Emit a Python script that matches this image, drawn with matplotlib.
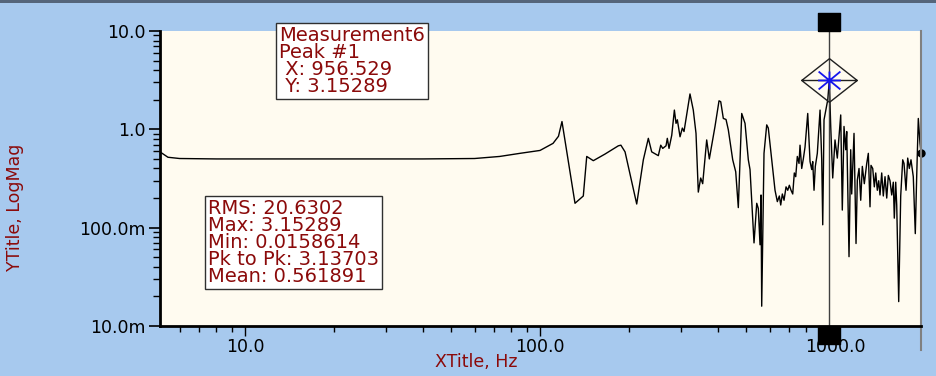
import numpy as np
import matplotlib
matplotlib.use("Agg")
import matplotlib.pyplot as plt
from matplotlib.path import Path
from matplotlib.transforms import blended_transform_factory
from matplotlib.patches import Rectangle

plt.rcParams['font.family'] = ['DejaVu Sans']

# spectrum (Hz, magnitude)
freq = [5.15, 5.48, 6.0, 8.0, 10.0, 20.0, 40.0, 60.0, 73.0, 85.5, 100.0, 110.7, 115.5, 118.7,
        131.4, 140.2, 144.0, 151.6, 166.0, 184.3, 188.0, 194.2, 212.7, 224.0, 232.9, 239.1,
        251.8, 256.6, 260.6, 267.4, 270.1, 273.7, 279.6, 285.4, 289.1, 292.1, 298.3, 303.7,
        307.7, 322.4, 330.8, 337.9, 344.0, 350.5, 356.0, 367.3, 374.9, 391.9, 404.4, 409.8,
        418.2, 427.1, 434.8, 450.0, 460.7, 470.1, 482.8, 495.4, 508.3, 515.1, 531.4, 542.8,
        549.5, 556.9, 561.3, 564.3, 574.5, 586.8, 594.1, 610.1, 626.1, 637.5, 647.6, 654.6,
        662.9, 671.7, 682.3, 691.5, 700.1, 709.4, 718.9, 727.8, 735.9, 745.1, 755.1, 761.0,
        771.1, 780.8, 791.3, 808.2, 822.9, 833.7, 840.3, 848.9, 857.5, 871.0, 889.7, 901.5,
        908.6, 917.8, 932.3, 945.0, 956.529, 967.0, 982.2, 1000.0, 1018.1, 1045.5, 1058.5,
        1072.7, 1087.1, 1095.6, 1115.5, 1130.3, 1139.2, 1159.9, 1178.2, 1190.2, 1206.2,
        1222.2, 1237.5, 1257.0, 1280.9, 1297.0, 1314.1, 1324.4, 1342.2, 1359.0, 1374.1,
        1391.3, 1406.4, 1420.7, 1439.8, 1457.8, 1477.4, 1497.3, 1516.0, 1536.0, 1556.7,
        1576.1, 1588.5, 1606.1, 1618.7, 1644.0, 1669.9, 1696.3, 1713.6, 1740.6, 1763.6,
        1785.8, 1809.4, 1842.2, 1871.3, 1891.7, 1915.8, 1941.2, 1956.5]
mag = [0.59, 0.52, 0.505, 0.50, 0.50, 0.50, 0.50, 0.505, 0.53, 0.57, 0.61, 0.72, 0.85, 1.2,
       0.177, 0.21, 0.53, 0.48, 0.56, 0.68, 0.69, 0.59, 0.174, 0.49, 0.81, 0.59,
       0.54, 0.69, 0.64, 0.68, 0.81, 0.64, 0.87, 1.57, 1.15, 1.25, 0.84, 1.03,
       0.95, 2.29, 1.57, 0.91, 0.23, 0.32, 0.28, 0.78, 0.50, 1.07, 1.95, 1.91,
       1.29, 1.26, 0.99, 0.49, 0.37, 0.16, 1.45, 1.15, 0.49, 0.39, 0.070, 0.177,
       0.157, 0.067, 0.215, 0.0159, 0.57, 1.11, 1.03, 0.49, 0.24, 0.184, 0.21, 0.17,
       0.22, 0.19, 0.26, 0.24, 0.27, 0.24, 0.22, 0.36, 0.33, 0.53, 0.45, 0.69,
       0.40, 0.50, 0.66, 1.45, 0.47, 0.39, 0.47, 0.24, 0.42, 0.57, 1.57, 0.49,
       0.107, 1.25, 1.6, 2.0, 3.15289, 1.07, 0.32, 0.78, 0.51, 1.40, 0.151,
       1.07, 0.62, 0.95, 0.0507, 0.62, 0.22, 0.91, 0.069, 0.305, 0.40,
       0.19, 0.42, 0.28, 0.45, 0.57, 0.163, 0.43, 0.40, 0.26, 0.36,
       0.24, 0.30, 0.215, 0.36, 0.21, 0.33, 0.20, 0.34, 0.30, 0.215,
       0.29, 0.125, 0.29, 0.17, 0.0177, 0.21, 0.49, 0.45, 0.24, 0.51,
       0.40, 0.49, 0.33, 0.087, 0.33, 1.29, 0.72, 0.58]

peak_x = 956.529
peak_y = 3.15289
peak_lines = ["Measurement6", "Peak #1", " X: 956.529", " Y: 3.15289"]
stats_lines = ["RMS: 20.6302", "Max: 3.15289", "Min: 0.0158614",
               "Pk to Pk: 3.13703", "Mean: 0.561891"]
ytick_vals = [0.01, 0.1, 1.0, 10.0]
ytick_labels = ["10.0m", "100.0m", "1.0", "10.0"]
xtick_vals = [10.0, 100.0, 1000.0]
xtick_labels = ["10.0", "100.0", "1000.0"]

bg = '#A7C9EE'
face = '#FFFBF0'
red = '#8B0A0A'

fig = plt.figure(figsize=(9.37, 3.76), dpi=100, facecolor=bg)
ax = fig.add_axes([160 / 937, 50 / 376, 761 / 937, 295 / 376], facecolor=face)

ax.plot(freq, mag, color='black', lw=1.0)
ax.plot(freq[-1], mag[-1], 'o', color='black', ms=5, clip_on=False)
ax.set_xscale('log')
ax.set_yscale('log')
ax.set_xlim(freq[0], freq[-1])
ax.set_ylim(0.01, 10)

ax.set_yticks(ytick_vals, ytick_labels)
ax.set_xticks(xtick_vals, xtick_labels)
ax.tick_params(axis='both', which='major', labelsize=12.5, colors='black', direction='out')
ax.tick_params(axis='y', which='major', length=8, width=1.2, pad=2)
ax.tick_params(axis='y', which='minor', length=5, width=1.0)
ax.tick_params(axis='x', which='major', length=7, width=1.0, pad=2)
ax.tick_params(axis='x', which='minor', length=4, width=1.0)
ax.yaxis.set_minor_formatter(plt.NullFormatter())
ax.xaxis.set_minor_formatter(plt.NullFormatter())

ax.spines['top'].set_visible(False)
ax.spines['left'].set_linewidth(2)
ax.spines['bottom'].set_linewidth(2)
ax.spines['right'].set_color('#808080')
ax.spines['right'].set_linewidth(1.5)

# right edge marker line extending below the axis
tr = blended_transform_factory(ax.transData, ax.transAxes)
ax.plot([freq[-1], freq[-1]], [-0.08, 0.0], color='#808080', lw=1.5,
        transform=tr, clip_on=False)

# cursor
ax.axvline(peak_x, color='#404040', lw=1.0)
sq = Path([(-1, -0.8), (1, -0.8), (1, 0.8), (-1, 0.8), (-1, -0.8)])
ax.plot([peak_x], [1.029], marker=sq, ms=16, color='black', transform=tr, clip_on=False)
ax.plot([peak_x], [-0.031], marker=sq, ms=16, color='black', transform=tr, clip_on=False)

dia = Path([(-1, 0), (0, 0.786), (1, 0), (0, -0.786), (-1, 0), (1, 0)],
           [Path.MOVETO, Path.LINETO, Path.LINETO, Path.LINETO, Path.LINETO, Path.LINETO])
ax.plot([peak_x], [peak_y], marker=dia, ms=40, mfc='none', mec='#202020', mew=1.0)
star = Path([(-1, 0), (1, 0), (-0.95, 0.78), (0.95, -0.78), (-0.95, -0.78), (0.95, 0.78),
             (0, -0.78), (0, 0.78)],
            [Path.MOVETO, Path.LINETO] * 4)
ax.plot([peak_x], [peak_y], marker=star, ms=16.5, mfc='none', mec='#1515EE', mew=1.3)

# annotation boxes
box = dict(boxstyle='square,pad=0.16', facecolor='white', edgecolor='#303030', lw=1.0)
fig.text(279 / 937, 1 - 26 / 376, "\n".join(peak_lines), fontsize=14, color=red,
         va='top', ha='left', linespacing=0.87, bbox=box)
fig.text(208 / 937, 1 - 199 / 376, "\n".join(stats_lines), fontsize=14, color=red,
         va='top', ha='left', linespacing=0.87, bbox=box)

fig.text(476 / 937, 1 - 362 / 376, "XTitle, Hz", fontsize=12.5, color=red,
         ha='center', va='center')
fig.text(15 / 937, 1 - 207 / 376, "YTitle, LogMag", fontsize=12.5, color=red,
         ha='center', va='center', rotation=90)

# dark frame line at the very top
fig.add_artist(Rectangle((0, 1 - 3 / 376), 1, 3 / 376, transform=fig.transFigure,
                         facecolor='#55657A', edgecolor='none'))

fig.savefig('out.png', dpi=100, facecolor=bg)
